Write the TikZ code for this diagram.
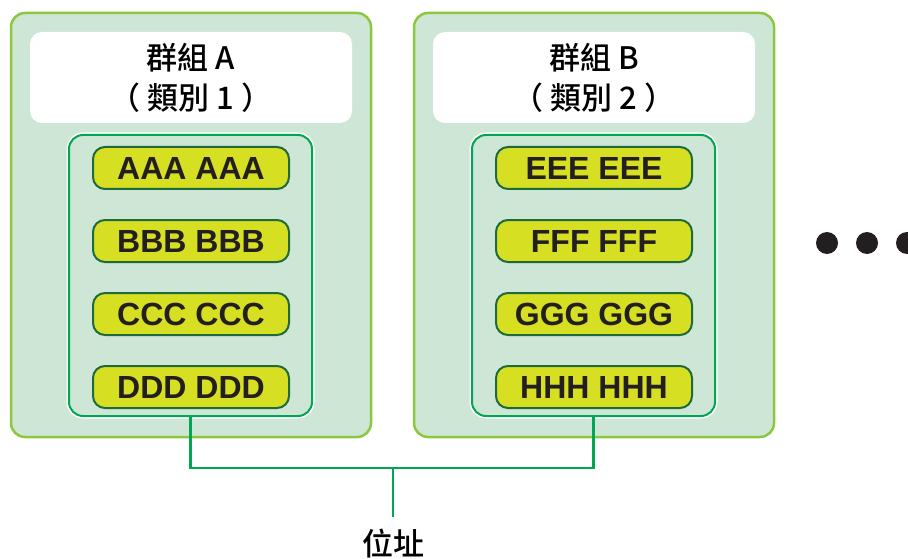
\documentclass[tikz,border=0pt]{standalone}
\usepackage{fontspec}
\setmainfont{Liberation Sans}
\newfontfamily\cjk{Noto Sans CJK TC Medium}
\usepackage{tikz}
\usetikzlibrary{positioning}
\usepackage{xcolor}
\definecolor{myPaleGreen}{HTML}{CDE6D5}
\definecolor{myLimeLine}{HTML}{8DC63F}
\definecolor{myGreen}{HTML}{00A651}
\definecolor{myYellow}{HTML}{D7DF23}
\definecolor{myDarkGreen}{HTML}{1D6B3B}
\definecolor{myBlack}{HTML}{231F20}
\tikzset{
    groupbox/.style={draw=myLimeLine,fill=myPaleGreen,line width=2.5pt,rounded corners=14pt,
        minimum width=360pt,minimum height=424pt,inner sep=0pt},
    headbox/.style={fill=white,rounded corners=12pt,minimum width=322pt,minimum height=91pt,
        align=center,font=\cjk\fontsize{31}{40}\selectfont,inner sep=0pt},
    listbox/.style={draw=myGreen,fill=myPaleGreen,line width=2pt,rounded corners=14pt,
        minimum width=243pt,minimum height=281pt,inner sep=0pt,
        preaction={draw=white,line width=5pt}},
    entry/.style={draw=myDarkGreen,fill=myYellow,line width=2pt,rounded corners=12pt,
        minimum width=196pt,minimum height=42pt,inner sep=0pt,
        font=\bfseries\fontsize{32}{32}\selectfont,text=myBlack},
    link/.style={draw=myGreen,line width=2.5pt}
}
\begin{document}
\begin{tikzpicture}[x=1pt,y=1pt]
    \useasboundingbox (0,0) rectangle (908,-559);

    % group A
    \node[groupbox] (grpA) at (191,-225) {};
    \node[headbox] (headA) at (191,-77.5) {群組 A\\（ 類別 1 ）};
    \node[listbox] (listA) at (190.5,-275.5) {};
    \node[entry] (a1) at (191,-168) {AAA AAA};
    \node[entry,below=29pt of a1] (a2) {BBB BBB};
    \node[entry,below=29pt of a2] (a3) {CCC CCC};
    \node[entry,below=29pt of a3] (a4) {DDD DDD};

    % group B
    \node[groupbox] (grpB) at (594,-225) {};
    \node[headbox] (headB) at (594,-77.5) {群組 B\\（ 類別 2 ）};
    \node[listbox] (listB) at (593.5,-275.5) {};
    \node[entry] (b1) at (594,-168) {EEE EEE};
    \node[entry,below=29pt of b1] (b2) {FFF FFF};
    \node[entry,below=29pt of b2] (b3) {GGG GGG};
    \node[entry,below=29pt of b3] (b4) {HHH HHH};

    % more groups
    \foreach \x in {827,867,907}{
        \fill[myBlack] (\x,-243) circle (11pt);
    }

    % address lines
    \coordinate (join) at (393,-468);
    \node[font=\cjk\fontsize{31}{31}\selectfont,text=black] (addr) at (393,-544) {位址};
    \draw[link] (listA.south) |- (join) -| (listB.south);
    \draw[link] (join) -- ++(0,-49);
\end{tikzpicture}
\end{document}
